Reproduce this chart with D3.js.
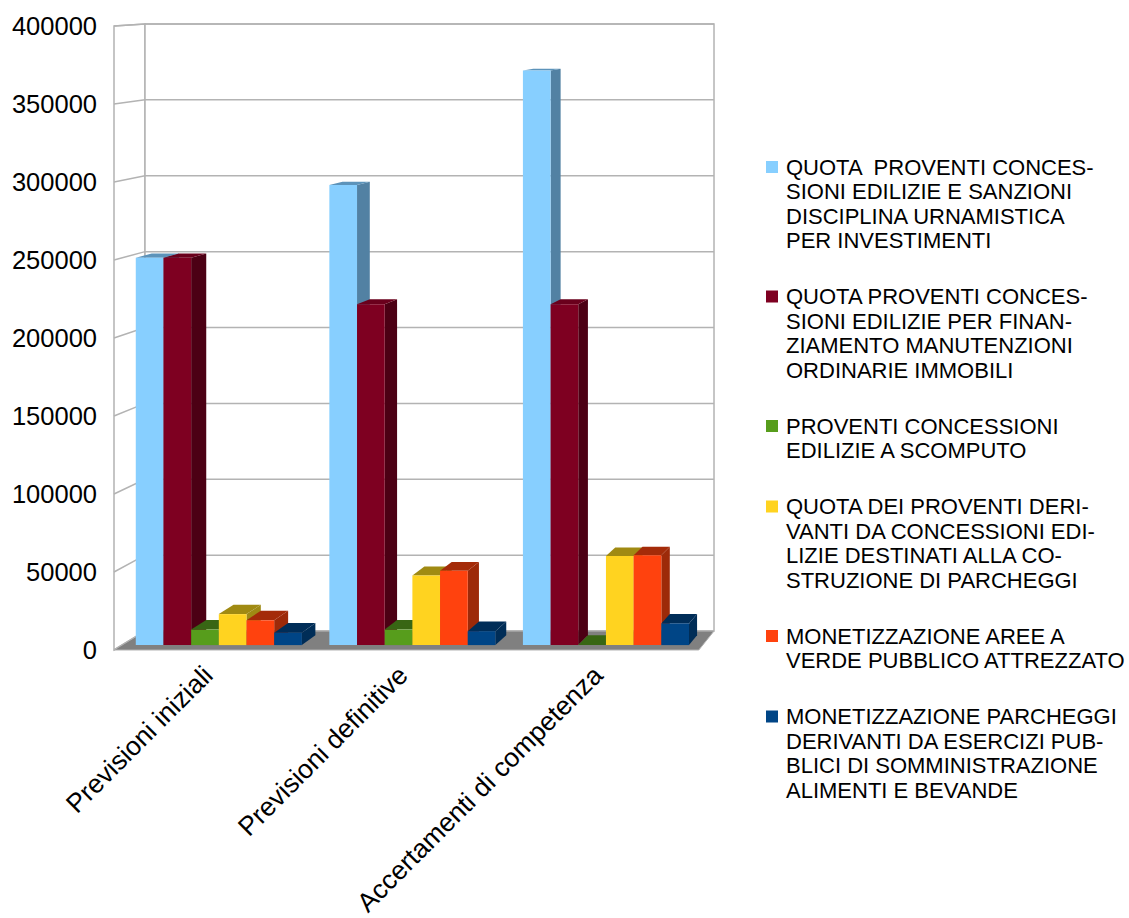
<!DOCTYPE html>
<html>
<head>
<meta charset="utf-8">
<script src="https://cdn.jsdelivr.net/npm/d3@7"></script>
<style>
  html, body { margin: 0; padding: 0; background: #ffffff; }
  svg { display: block; font-family: "Liberation Sans", Arial, sans-serif; }
</style>
</head>
<body>
<svg id="chart" width="1129" height="918"></svg>
<script>
// Categories on the x axis
const categories = ["Previsioni iniziali", "Previsioni definitive", "Accertamenti di competenza"];

// Series values, one array per series (euro)
const quotaInvestimenti = [250000, 297000, 371000];
const quotaManutenzioni = [250000, 220000, 220000];
const scomputo          = [10000, 10000, 0];
const parcheggi         = [20000, 45000, 57500];
const areeVerdi         = [16000, 48000, 58000];
const eserciziPubblici  = [8000, 9000, 14000];

// Legend labels, already split into lines
const legendLabels = [
  ["QUOTA  PROVENTI CONCES-", "SIONI EDILIZIE E SANZIONI", "DISCIPLINA URNAMISTICA", "PER INVESTIMENTI"],
  ["QUOTA PROVENTI CONCES-", "SIONI EDILIZIE PER FINAN-", "ZIAMENTO MANUTENZIONI", "ORDINARIE IMMOBILI"],
  ["PROVENTI CONCESSIONI", "EDILIZIE A SCOMPUTO"],
  ["QUOTA DEI PROVENTI DERI-", "VANTI DA CONCESSIONI EDI-", "LIZIE DESTINATI ALLA CO-", "STRUZIONE DI PARCHEGGI"],
  ["MONETIZZAZIONE AREE A", "VERDE PUBBLICO ATTREZZATO"],
  ["MONETIZZAZIONE PARCHEGGI", "DERIVANTI DA ESERCIZI PUB-", "BLICI DI SOMMINISTRAZIONE", "ALIMENTI E BEVANDE"]
];

// Y axis ticks
const yTicks = [0, 50000, 100000, 150000, 200000, 250000, 300000, 350000, 400000];

const seriesValues = [quotaInvestimenti, quotaManutenzioni, scomputo, parcheggi, areeVerdi, eserciziPubblici];

// Face colours: front, side, top
const palette = [
  { front: "#87cfff", side: "#5281a3", top: "#5c93ba" },
  { front: "#7e0021", side: "#4c0014", top: "#6a001c" },
  { front: "#579d1c", side: "#386614", top: "#386614" },
  { front: "#ffd320", side: "#9f8a14", top: "#a08a12" },
  { front: "#ff420e", side: "#9d2a09", top: "#a42b09" },
  { front: "#004586", side: "#002d57", top: "#002d58" }
];

const svg = d3.select("#chart");

// Front plane geometry
const plot = { left: 114, right: 698.8, top: 26, bottom: 650 };

const y = d3.scaleLinear().domain([0, 400000]).range([plot.bottom, plot.top]);
const x0 = d3.scaleBand().domain(categories).range([plot.left, plot.right])
  .paddingInner(0.142).paddingOuter(0.071);
const x1 = d3.scaleBand().domain(d3.range(seriesValues.length)).range([0, x0.bandwidth()]).padding(0);

// Perspective: depth shrinks points toward a vanishing point
const VX = 1262, VY = -50;
const K_WALL = 0.973, K_BAR_FRONT = 0.993, K_BAR_BACK = 0.979;
function proj(px, py, k) { return [VX + k * (px - VX), VY + k * (py - VY)]; }
function poly(pts) { return pts.map(p => p[0].toFixed(2) + "," + p[1].toFixed(2)).join(" "); }

const gridColor = "#b3b3b3";

// Left side wall
svg.append("polygon")
  .attr("points", poly([proj(plot.left, plot.top, 1), proj(plot.left, plot.top, K_WALL),
                        proj(plot.left, plot.bottom, K_WALL), proj(plot.left, plot.bottom, 1)]))
  .attr("fill", "#ffffff").attr("stroke", gridColor).attr("stroke-width", 1.5);

// Back wall
svg.append("polygon")
  .attr("points", poly([proj(plot.left, plot.top, K_WALL), proj(plot.right, plot.top, K_WALL),
                        proj(plot.right, plot.bottom, K_WALL), proj(plot.left, plot.bottom, K_WALL)]))
  .attr("fill", "#ffffff").attr("stroke", gridColor).attr("stroke-width", 1.5);

// Grid lines on both walls
const grid = svg.append("g").attr("stroke", gridColor).attr("stroke-width", 1.5).attr("fill", "none");
yTicks.forEach(t => {
  const a = proj(plot.left, y(t), 1), b = proj(plot.left, y(t), K_WALL), c = proj(plot.right, y(t), K_WALL);
  grid.append("polyline").attr("points", poly([a, b, c]));
});

// Floor
svg.append("polygon")
  .attr("points", poly([proj(plot.left, plot.bottom, 1), proj(plot.right, plot.bottom, 1),
                        proj(plot.right, plot.bottom, K_WALL), proj(plot.left, plot.bottom, K_WALL)]))
  .attr("fill", "#808080").attr("stroke", "#b3b3b3").attr("stroke-width", 1);

// Bars, drawn left to right so each front face hides the neighbour's side
const bars = svg.append("g");
categories.forEach((cat, ci) => {
  seriesValues.forEach((vals, si) => {
    const xa = x0(cat) + x1(si), xb = xa + x1.bandwidth();
    const yv = y(vals[ci]), yb = y(0);
    const c = palette[si];
    const fTL = proj(xa, yv, K_BAR_FRONT), fTR = proj(xb, yv, K_BAR_FRONT),
          fBR = proj(xb, yb, K_BAR_FRONT), fBL = proj(xa, yb, K_BAR_FRONT);
    const bTL = proj(xa, yv, K_BAR_BACK), bTR = proj(xb, yv, K_BAR_BACK), bBR = proj(xb, yb, K_BAR_BACK);
    const g = bars.append("g");
    g.append("polygon").attr("points", poly([fTR, bTR, bBR, fBR])).attr("fill", c.side);
    g.append("polygon").attr("points", poly([fTL, bTL, bTR, fTR])).attr("fill", c.top);
    g.append("polygon").attr("points", poly([fTL, fTR, fBR, fBL])).attr("fill", c.front);
  });
});

// Y axis labels
svg.append("g").selectAll("text").data(yTicks).join("text")
  .attr("x", 97).attr("y", d => y(d))
  .attr("dy", "0.35em")
  .attr("text-anchor", "end")
  .attr("font-size", 25.5).attr("fill", "#000")
  .text(d => d);

// X axis labels, rotated
svg.append("g").selectAll("text").data(categories).join("text")
  .attr("transform", d => {
    const cx = proj(x0(d) + x0.bandwidth() / 2, plot.bottom, 1)[0];
    return `translate(${cx + 3},${677}) rotate(-45)`;
  })
  .attr("text-anchor", "end")
  .attr("font-size", 26.5).attr("fill", "#000")
  .text(d => d);

// Legend
const legend = svg.append("g");
const lineH = 24.5, entryGap = 31.5, legendFont = 22;
let cy = 167;
legendLabels.forEach((lines, i) => {
  legend.append("rect").attr("x", 766).attr("y", cy - 6).attr("width", 12).attr("height", 12)
    .attr("fill", palette[i].front);
  const t = legend.append("text").attr("font-size", legendFont).attr("fill", "#000")
    .attr("xml:space", "preserve").style("white-space", "pre");
  lines.forEach((ln, j) => {
    t.append("tspan").attr("x", 786).attr("y", cy + j * lineH).attr("dy", "0.35em").text(ln);
  });
  cy += lines.length * lineH + entryGap;
});
</script>
</body>
</html>
